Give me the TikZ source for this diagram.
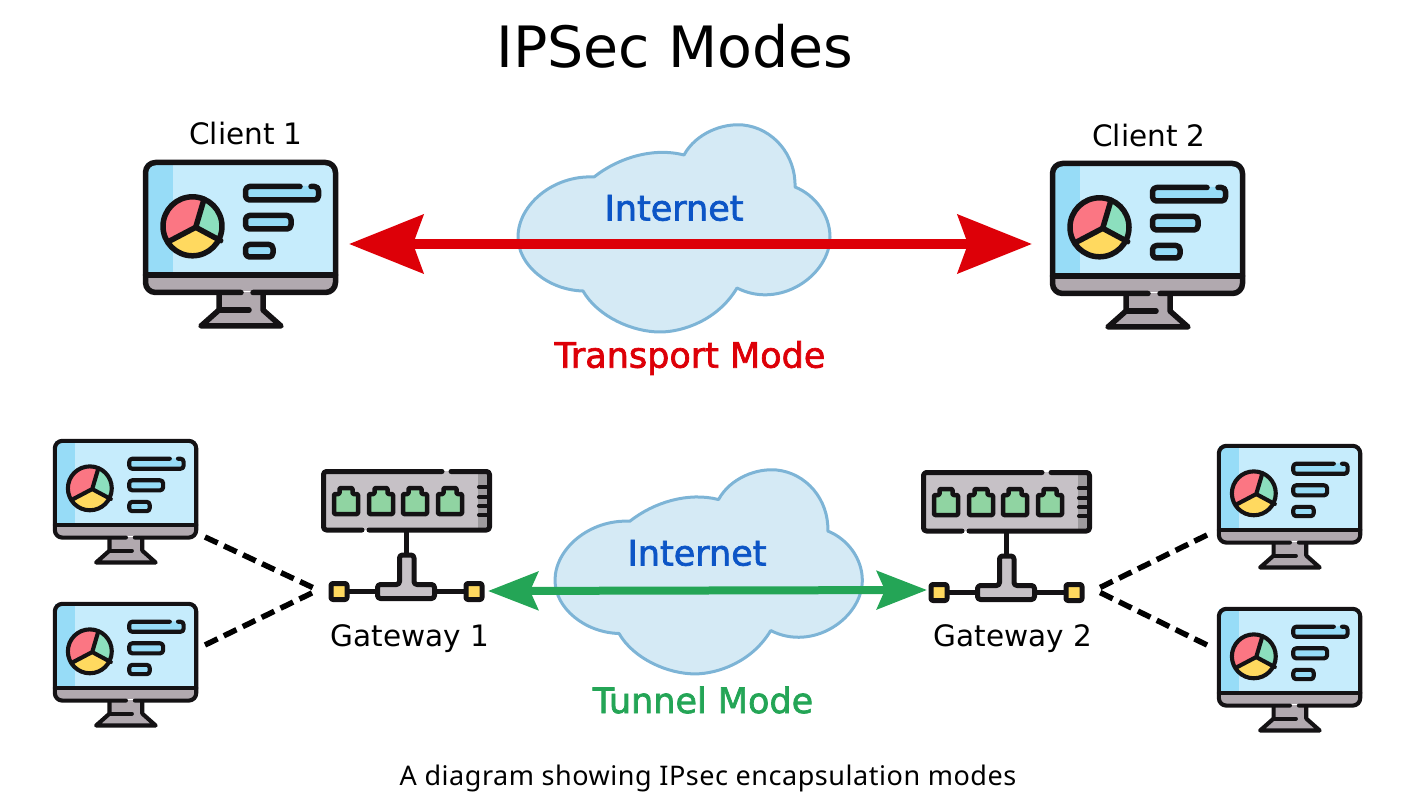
\documentclass[tikz,border=0pt]{standalone}
\usepackage{fontspec}
\setmainfont{DejaVu Sans}
\newfontfamily\modefont[FakeBold=2]{DejaVu Sans}
\newfontfamily\capfont[LetterSpace=2]{Noto Sans}
\usepackage{xcolor}
\usetikzlibrary{arrows.meta}
\definecolor{ink}{HTML}{141214}
\definecolor{screenblue}{HTML}{C6ECFC}
\definecolor{stripblue}{HTML}{97DCF7}
\definecolor{chingray}{HTML}{B1A9AF}
\definecolor{pinkred}{HTML}{FB7683}
\definecolor{mint}{HTML}{8CDFBE}
\definecolor{gold}{HTML}{FFD95F}
\definecolor{boxgray}{HTML}{C6C1C6}
\definecolor{portgreen}{HTML}{90D4A2}
\definecolor{cloudfill}{HTML}{D5EAF5}
\definecolor{cloudline}{HTML}{7DB4D6}
\definecolor{modered}{HTML}{DD0008}
\definecolor{modegreen}{HTML}{24A556}
\definecolor{netblue}{HTML}{0C55C6}
\tikzset{
    pics/monitor/.style={code={
        \begin{scope}[scale=#1, line width=#1*5.5pt, draw=ink, line cap=round, line join=round]
        \fill[screenblue] (3,3) rectangle (192,115);
        \fill[stripblue] (3,3) rectangle (30,115);
        \fill[chingray] (3,115) rectangle (192,131);
        \fill[chingray] (74,132) rectangle (122,152);
        \fill[chingray] (74,150) -- (122,150) -- (140,165) -- (55,165) -- cycle;
        \draw[rounded corners=#1*10pt] (98,132.5) -- (2.5,132.5) -- (2.5,2.5) -- (192.5,2.5) -- (192.5,132.5) -- (110,132.5);
        \draw (2.5,115) -- (192.5,115);
        \draw (76,134) -- (76,150) -- (58,166) -- (138,166) -- (120,150) -- (120,134);
        \draw (76,150) -- (106,150);
        % pie
        \begin{scope}
        \clip (49.5,66.3) circle (29.5);
        \fill[gold] (20,20) rectangle (80,100);
        \fill[pinkred] (52.7,67.3) -- (61,35) -- (10,30) -- (10,90) -- (25.3,81.7) -- cycle;
        \fill[mint] (52.7,67.3) -- (61,35) -- (90,30) -- (90,85) -- cycle;
        \end{scope}
        \draw (49.5,66.3) circle (29.5);
        \draw (61,39.3) -- (52.7,67.3) -- (77.7,80.7) (52.7,67.3) -- (25.3,81.7);
        % bars
        \fill[stripblue,rounded corners=#1*3pt] (102,26) rectangle (176,40);
        \fill[stripblue,rounded corners=#1*3pt] (102,55) rectangle (148,69);
        \fill[stripblue,rounded corners=#1*3pt] (102,84) rectangle (130,97);
        \draw[rounded corners=#1*4pt] (119,26.5) -- (102.5,26.5) -- (102.5,40) -- (175.5,40) -- (175.5,26.5) -- (168,26.5) (157,26.5) -- (119,26.5);
        \draw[rounded corners=#1*4pt] (102.5,55.5) rectangle (148,69);
        \draw[rounded corners=#1*4pt] (102.5,84.5) rectangle (130,97);
        \end{scope}
    }},
    pics/internet/.style={code={
        \begin{scope}[scale=#1]
        \draw[cloudline, fill=cloudfill, line width=3pt, line join=round]
            (76,52) .. controls (100,33) and (135,22) .. (166,30)
            .. controls (178,8) and (205,-2) .. (225,0)
            .. controls (255,3) and (278,30) .. (277,62)
            .. controls (297,70) and (312,90) .. (312,112)
            .. controls (312,150) and (262,185) .. (219,163)
            .. controls (200,195) and (165,207) .. (142,207)
            .. controls (115,207) and (80,192) .. (65,166)
            .. controls (30,165) and (0,140) .. (0,112)
            .. controls (0,80) and (35,50) .. (76,52) -- cycle;
        \end{scope}
    }},
    pics/gateway/.style={code={
        \begin{scope}[line width=5pt, draw=ink, line cap=round, line join=round]
        \fill[boxgray] (2,2) rectangle (169,61);
        \fill[boxgray!80!black] (157,4) rectangle (168,59);
        \draw[rounded corners=3pt] (41,61) -- (2.5,61) -- (2.5,2.5) -- (121,2.5) (130,2.5) -- (168.5,2.5) -- (168.5,61) -- (48,61);
        \foreach \px in {25,60,94,129}{
            \draw[fill=portgreen, rounded corners=1pt, line width=4.5pt] (\px-12,45) -- (\px-12,25) -- (\px-6.5,25) -- (\px-6.5,19) -- (\px+6.5,19) -- (\px+6.5,25) -- (\px+12,25) -- (\px+12,45) -- cycle;
        }
        \foreach \py in {18,28,37,46}{
            \draw[line width=4pt] (158,\py) -- (167,\py);
        }
        \draw (85.5,62) -- (85.5,84);
        \draw (25,122.5) -- (56,122.5) (113,122.5) -- (145,122.5);
        \draw[fill=boxgray, rounded corners=3pt] (78.5,115.5) -- (78.5,86) -- (93,86) -- (93,115.5) -- (113.5,115.5) -- (113.5,129.5) -- (56.5,129.5) -- (56.5,115.5) -- cycle;
        \draw[fill=gold, rounded corners=2pt] (10,114.5) rectangle (26,130.5);
        \draw[fill=gold, rounded corners=2pt] (145,114.5) rectangle (161,130.5);
        \end{scope}
    }},
}
\begin{document}
\begin{tikzpicture}[x=1pt,y=-1pt]
\useasboundingbox (0,0) rectangle (1403,810);
\node (title) at (675,46) {\fontsize{57}{57}\selectfont IPSec Modes};
% transport mode
\foreach \x/\y/\s in {143/160/1, 1050/161/1, 53/439/.744, 53/602/.744, 1217/444/.744, 1217/607/.744}{
\pic at (\x,\y) {monitor=\s};
}
\pic at (518,125) {internet=1};
\pic at (555,470) {internet=.985};
\foreach \x/\y/\p/\labeltext in {246/134/client1/{Client 1}, 1149/136/client2/{Client 2}, 410/639/gate1/{Gateway 1}, 1013/639/gate2/{Gateway 2}}{
\node (\p) at (\x,\y) {\fontsize{29.5}{29.5}\selectfont \labeltext};
}
\pic at (321,469) {gateway};
\pic at (921,470) {gateway};
\coordinate (tL) at (349,244);
\coordinate (tR) at (1032,244);
\draw[modered, line width=10pt, {Stealth[length=74pt,width=58pt,inset=10pt]}-{Stealth[length=74pt,width=58pt,inset=10pt]}] (tL) -- (tR);
\coordinate (gL) at (488,591);
\coordinate (gR) at (927,590);
\draw[modegreen, line width=8pt, {Stealth[length=50pt,width=38pt,inset=8pt]}-{Stealth[length=50pt,width=38pt,inset=8pt]}] (gL) -- (gR);
% dashed links
\foreach \a/\b/\c/\d in {205/537/318/590, 205/645/318/590, 1207/535/1095/590, 1207/645/1095/590}{
\coordinate (la) at (\a,\b);
\coordinate (lb) at (\c,\d);
\draw[line width=5.5pt, dash pattern=on 14pt off 7pt] (la) -- (lb);
}
\node[netblue] (net1) at (674,208) {\modefont\fontsize{35}{35}\selectfont Internet};
\node[netblue] (net2) at (697,553) {\modefont\fontsize{35}{35}\selectfont Internet};
\node[modered] (tmode) at (690,358) {\modefont\fontsize{35}{35}\selectfont Transport Mode};
\node[modegreen] (gmode) at (703,700) {\modefont\fontsize{35}{35}\selectfont Tunnel Mode};
\node (caption) at (708,778) {\capfont\fontsize{27}{27}\selectfont A diagram showing IPsec encapsulation modes};
\end{tikzpicture}
\end{document}
